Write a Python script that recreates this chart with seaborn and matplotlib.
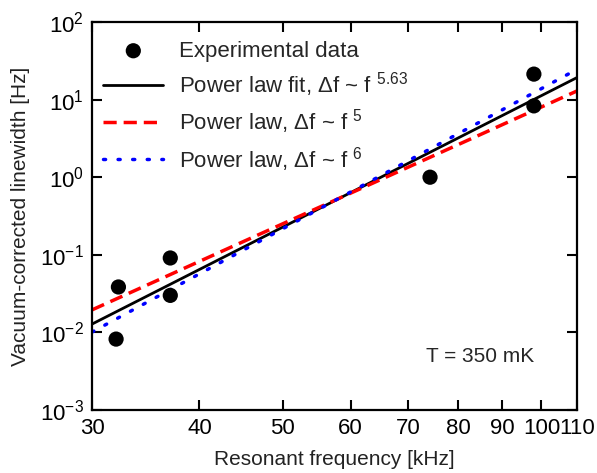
import numpy as np
import matplotlib
matplotlib.use("Agg")
import matplotlib.pyplot as plt
import matplotlib.ticker as mticker
import seaborn as sns
import pandas as pd

# Data
freq_khz = [32.0, 32.2, 37.0, 37.0, 74.2, 98.0, 98.0]
linewidth_hz = [0.0082, 0.0385, 0.091, 0.030, 1.0, 21.3, 8.3]

# Model curves: value at 30 kHz and exponent
model_labels = ["fit", "p5", "p6"]
model_exponents = [5.63, 5.0, 6.0]
model_value_at_30 = [0.0128, 0.0195, 0.0101]

x_ticks = [30, 40, 50, 60, 70, 80, 90, 100, 110]
y_ticks = [1e-3, 1e-2, 1e-1, 1e0, 1e1, 1e2]

sns.set_theme(style="ticks")
plt.rcParams['font.family'] = ['Liberation Sans', 'DejaVu Sans']
plt.rcParams['mathtext.fontset'] = 'custom'
plt.rcParams['mathtext.rm'] = 'Liberation Sans'
plt.rcParams['mathtext.it'] = 'Liberation Sans'
plt.rcParams['mathtext.default'] = 'rm'
plt.rcParams['axes.unicode_minus'] = False

fig = plt.figure(figsize=(5.97, 4.73), dpi=100)
ax = fig.add_axes([92/597, 1-410/473, 485/597, 388/473])

fgrid = np.geomspace(30, 110, 200)
curves = []
for lab, ex, v30 in zip(model_labels, model_exponents, model_value_at_30):
    curves.append(pd.DataFrame({"f": fgrid, "y": v30 * (fgrid / 30.0) ** ex, "model": lab}))
cdf = pd.concat(curves)

df = pd.DataFrame({"f": freq_khz, "w": linewidth_hz})
sns.scatterplot(data=df, x="f", y="w", ax=ax, color="black", s=120, edgecolor="none",
                label="Experimental data", zorder=5)
sns.lineplot(data=cdf[cdf.model == "fit"], x="f", y="y", ax=ax, color="black", lw=2,
             label=r"Power law fit, $\Delta$f ~ f $^{5.63}$")
sns.lineplot(data=cdf[cdf.model == "p5"], x="f", y="y", ax=ax, color="#ff0000", lw=2.5,
             dashes=(3.8, 2.0), label=r"Power law, $\Delta$f ~ f $^{5}$")
sns.lineplot(data=cdf[cdf.model == "p6"], x="f", y="y", ax=ax, color="#0000ff", lw=2.5,
             label=r"Power law, $\Delta$f ~ f $^{6}$")
ax.lines[-1].set_linestyle((0, (0.6, 3.6)))
ax.lines[-1].set_dash_capstyle('round')

ax.set_xscale("log")
ax.set_yscale("log")
ax.set_xlim(30, 110)
ax.set_ylim(1e-3, 1e2)
ax.xaxis.set_major_locator(mticker.FixedLocator(x_ticks))
ax.xaxis.set_major_formatter(mticker.FixedFormatter([str(t) for t in x_ticks]))
ax.xaxis.set_minor_locator(mticker.NullLocator())
ax.yaxis.set_major_locator(mticker.FixedLocator(y_ticks))
ax.yaxis.set_major_formatter(mticker.LogFormatterMathtext())
ax.yaxis.set_minor_locator(mticker.NullLocator())

ax.tick_params(which="major", direction="in", length=7, width=1.5, top=True, right=True,
               labelsize=16, pad=6, colors="black")
for s in ax.spines.values():
    s.set_linewidth(1.6)
    s.set_color("black")

ax.set_xlabel("Resonant frequency [kHz]", fontsize=15, color="#222222", labelpad=8)
ax.set_ylabel("Vacuum-corrected linewidth [Hz]", fontsize=15, color="#222222", labelpad=7)

ax.text(0.80, 0.138, "T = 350 mK", transform=ax.transAxes, ha="center", va="center", fontsize=15)

leg = ax.legend(loc="upper left", frameon=False, fontsize=16, handlelength=2.7,
                labelspacing=0.38, handletextpad=0.7, borderaxespad=0.0,
                bbox_to_anchor=(0.005, 0.975))

fig.savefig("out.png", dpi=100)
